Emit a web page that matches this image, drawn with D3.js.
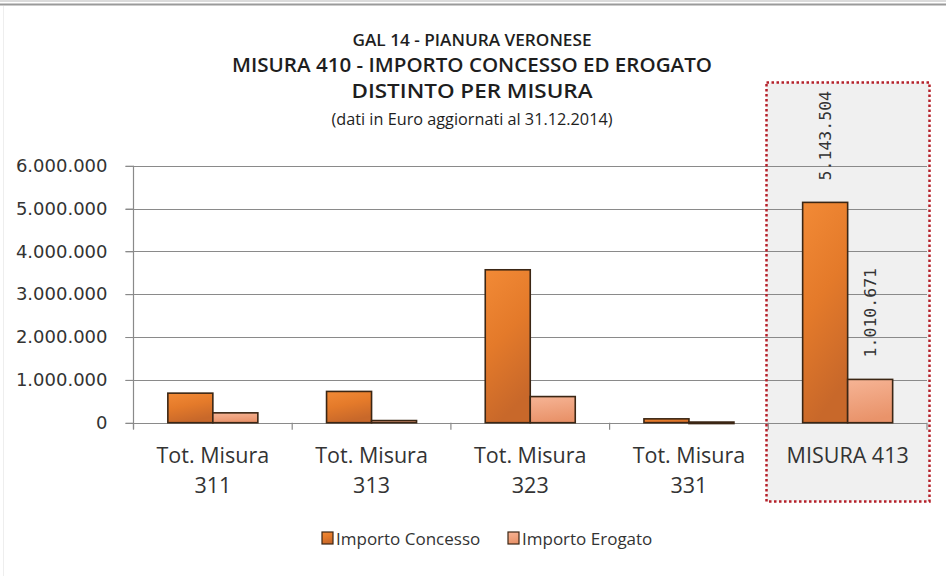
<!DOCTYPE html>
<html><head><meta charset="utf-8">
<script src="https://cdn.jsdelivr.net/npm/d3@7"></script>
<style>body{margin:0;background:#fff}svg{display:block}</style>
</head><body>
<svg id="c" width="946" height="576"></svg>
<script>
const categories = [["Tot. Misura","311"],["Tot. Misura","313"],["Tot. Misura","323"],["Tot. Misura","331"],["MISURA 413"]];
const seriesNames = ["Importo Concesso","Importo Erogato"];
const concesso = [690000, 730000, 3570000, 90000, 5143504];
const erogato = [230000, 50000, 610000, 15000, 1010671];
const labelled = [false,false,false,false,true];
const yTicks = [0,1000000,2000000,3000000,4000000,5000000,6000000];
const titles = ["GAL 14 - PIANURA VERONESE","MISURA 410 - IMPORTO CONCESSO ED EROGATO","DISTINTO PER MISURA","(dati in Euro aggiornati al 31.12.2014)"];

(function(){
const svg = d3.select("#c");
const pLeft=133.5, pRight=927, pTop=165.7, pBottom=422.7;
const fmt = v => d3.format(",")(v).replace(/,/g,".");
const x0 = d3.scaleBand().domain(d3.range(categories.length)).range([pLeft,pRight]).paddingInner(0).paddingOuter(0);
const x1 = d3.scaleBand().domain([0,1]).range([0,90]);
const groupOffset = (x0.bandwidth()-90)/2;
const y = d3.scaleLinear().domain([0,6000000]).range([pBottom,pTop]);

// frame
svg.append("line").attr("x1",0).attr("x2",946).attr("y1",1).attr("y2",1).attr("stroke","#cfcfcf").attr("stroke-width",1.5);
svg.append("line").attr("x1",0).attr("x2",946).attr("y1",4.5).attr("y2",4.5).attr("stroke","#9a9a9a").attr("stroke-width",2);
svg.append("line").attr("x1",3.5).attr("x2",3.5).attr("y1",6).attr("y2",576).attr("stroke","#eeeeee").attr("stroke-width",1);

const defs = svg.append("defs");
function grad(id, stops, x2, y2){
  const g = defs.append("linearGradient").attr("id",id).attr("x1",0).attr("y1",0).attr("x2",x2).attr("y2",y2);
  stops.forEach(s=>g.append("stop").attr("offset",s[0]).attr("stop-color",s[1]));
}
grad("gC",[[0,"#f28a36"],[0.5,"#e47a2a"],[1,"#c8682a"]],0.3,1);
grad("gE",[[0,"#f6b495"],[1,"#e9936a"]],0.2,1);

// highlight box
svg.append("rect").attr("x",766.5).attr("y",82.5).attr("width",163).attr("height",419)
  .attr("fill","#f0f0f0");

// gridlines
svg.append("g").selectAll("line").data(yTicks).join("line")
  .attr("x1",pLeft-8).attr("x2",pRight).attr("y1",d=>Math.round(y(d))+0.5).attr("y2",d=>Math.round(y(d))+0.5)
  .attr("stroke","#8a8a8a").attr("stroke-width",1.2);

// y axis
const ya = svg.append("g").attr("transform",`translate(${pLeft},0)`)
  .call(d3.axisLeft(y).tickValues(yTicks).tickFormat(fmt).tickSize(8).tickPadding(18));
ya.select(".domain").attr("d",`M0,${pTop}V${pBottom+6}`).attr("stroke","#8a8a8a").attr("stroke-width",1.2);
ya.selectAll(".tick line").attr("stroke","#8a8a8a");
ya.selectAll("text").attr("font-family","DejaVu Sans").attr("font-size",18).attr("fill","#333");

// category ticks
svg.append("g").selectAll("line").data(d3.range(categories.length+1)).join("line")
  .attr("x1",d=>pLeft+d*x0.step()).attr("x2",d=>pLeft+d*x0.step())
  .attr("y1",pBottom).attr("y2",pBottom+7).attr("stroke","#8a8a8a").attr("stroke-width",1.2);

// bars
const series = [concesso, erogato];
const fills = ["url(#gC)","url(#gE)"];
series.forEach((vals,si)=>{
  svg.append("g").selectAll("rect").data(vals).join("rect")
    .attr("x",(d,i)=>x0(i)+groupOffset+x1(si))
    .attr("y",d=>y(d)).attr("width",x1.bandwidth()).attr("height",d=>Math.max(pBottom-y(d),1.5))
    .attr("fill",fills[si]).attr("stroke","#3b2614").attr("stroke-width",1.6);
  svg.append("g").selectAll("text").data(vals.map((v,i)=>({v,i})).filter(d=>labelled[d.i])).join("text")
    .attr("transform",d=>`translate(${x0(d.i)+groupOffset+x1(si)+x1.bandwidth()/2+6},${y(d.v)-22}) rotate(-90)`)
    .attr("font-family","DejaVu Sans Mono").attr("font-size",16.5).attr("fill","#333")
    .text(d=>fmt(d.v));
});

// highlight border on top
svg.append("rect").attr("x",766.5).attr("y",82.5).attr("width",163).attr("height",419)
  .attr("fill","none").attr("stroke","#b5202a").attr("stroke-width",2.5).attr("stroke-dasharray","2.5,2.5");

// category labels
const cl = svg.append("g").selectAll("text").data(categories).join("text")
  .attr("x",(d,i)=>x0(i)+x0.bandwidth()/2).attr("y",463)
  .attr("text-anchor","middle").attr("font-family","Open Sans").attr("font-size",21.5).attr("fill","#333");
cl.each(function(d){
  const t = d3.select(this);
  d.forEach((line,k)=>t.append("tspan").attr("x",t.attr("x")).attr("dy",k?30:0).text(line));
});

// titles
const tsz=[16,19,19,15.5], ty=[46,72,98,125], tw=[true,true,true,false], tl=[239,480,241,281];
svg.append("g").selectAll("text").data(titles).join("text")
  .attr("x",472).attr("y",(d,i)=>ty[i]).attr("text-anchor","middle")
  .attr("font-family","Open Sans").attr("font-weight",(d,i)=>tw[i]?600:400)
  .attr("font-size",(d,i)=>tsz[i]).attr("fill","#1e1e1e")
  .attr("textLength",(d,i)=>tl[i]).attr("lengthAdjust","spacingAndGlyphs").text(d=>d);

// legend
const lx=[322,508];
const lg = svg.append("g").selectAll("g").data(seriesNames).join("g")
  .attr("transform",(d,i)=>`translate(${lx[i]},532)`);
lg.append("rect").attr("width",11).attr("height",12).attr("fill",(d,i)=>fills[i]).attr("stroke","#3b2614").attr("stroke-width",1.2);
lg.append("text").attr("x",14).attr("y",12.5).attr("font-family","Open Sans").attr("font-size",17).attr("fill","#333").text(d=>d);
})();
</script>
</body></html>
